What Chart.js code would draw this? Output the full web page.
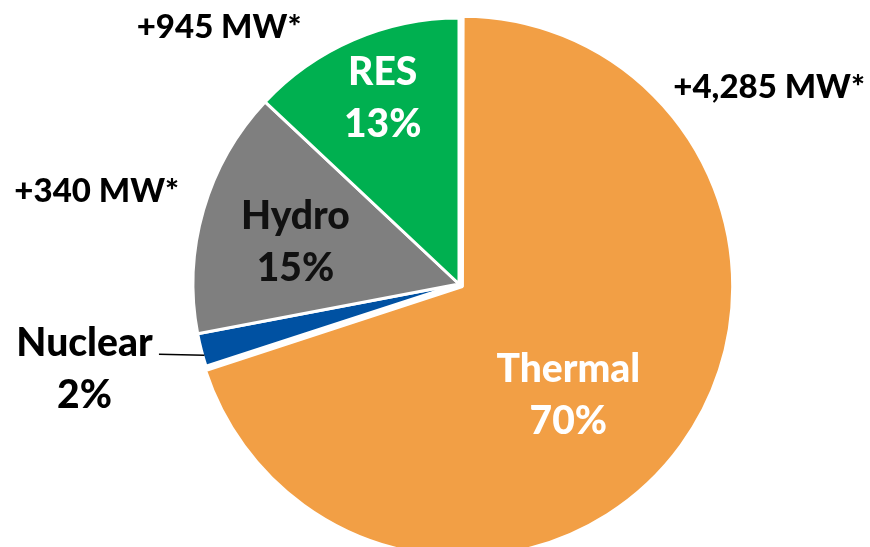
<!DOCTYPE html>
<html>
<head>
<meta charset="utf-8">
<script src="https://cdn.jsdelivr.net/npm/chart.js@4"></script>
<style>
  html, body { margin: 0; padding: 0; background: #fff; overflow: hidden; }
  #wrap { position: relative; width: 870px; height: 547px; }
</style>
</head>
<body>
<div id="wrap"><canvas id="mixChart"></canvas></div>
<script>
const sources = ["Thermal", "Nuclear", "Hydro", "RES"];
const shares = [70, 2, 15, 13];
const added = ["+4,285 MW*", "", "+340 MW*", "+945 MW*"];

const sliceColors = ["#F29F45", "#0051A2", "#7F7F7F", "#00B050"];
const nameColors = ["#ffffff", "#000000", "#111111", "#ffffff"];

// where the labels sit, as fractions of the radius from the pie centre
const namePos = [[0.411, 0.419], [-1.408, 0.321], [-0.615, -0.158], [-0.287, -0.698]];
const addedPos = [[1.166, -0.740], null, [-1.362, -0.347], [-0.902, -0.966]];

const FONT = "Lato, 'Open Sans', sans-serif";

const pieLabels = {
    id: "pieLabels",
    afterDatasetsDraw(chart) {
        const ctx = chart.ctx;
        const arcs = chart.getDatasetMeta(0).data;
        ctx.save();
        ctx.textAlign = "center";
        ctx.textBaseline = "middle";
        arcs.forEach((arc, i) => {
            const r = arc.outerRadius;
            const cx = arc.x, cy = arc.y;
            const nx = cx + namePos[i][0] * r;
            const ny = cy + namePos[i][1] * r;
            ctx.fillStyle = nameColors[i];
            ctx.font = "900 39px " + FONT;
            ctx.fillText(sources[i], nx, ny - 26);
            ctx.fillText(shares[i] + "%", nx, ny + 26);

            if (addedPos[i]) {
                ctx.fillStyle = "#000";
                ctx.font = "900 33px " + FONT;
                ctx.fillText(added[i], cx + addedPos[i][0] * r, cy + addedPos[i][1] * r);
            }

            // leader line for the thin nuclear slice
            if (i === 1) {
                const ly = 0.264 * r;
                ctx.strokeStyle = "#000";
                ctx.lineWidth = 1.5;
                ctx.beginPath();
                ctx.moveTo(cx - 1.128 * r, cy + ly);
                ctx.lineTo(cx - Math.sqrt(r * r - ly * ly) + 2, cy + ly + 1);
                ctx.stroke();
            }
        });
        ctx.restore();
    }
};

new Chart("mixChart", {
    type: "pie",
    data: {
        labels: sources,
        datasets: [{
            data: shares,
            backgroundColor: sliceColors,
            borderColor: "#ffffff",
            borderWidth: 3,
            offset: [17, 0, 0, 0],
            clip: false
        }]
    },
    options: {
        responsive: true,
        maintainAspectRatio: false,
        animation: false,
        radius: 266,
        layout: { padding: { left: 48, right: 0, top: 21, bottom: 0 } },
        plugins: {
            legend: { display: false },
            tooltip: { enabled: false }
        }
    },
    plugins: [pieLabels]
});
</script>
</body>
</html>
